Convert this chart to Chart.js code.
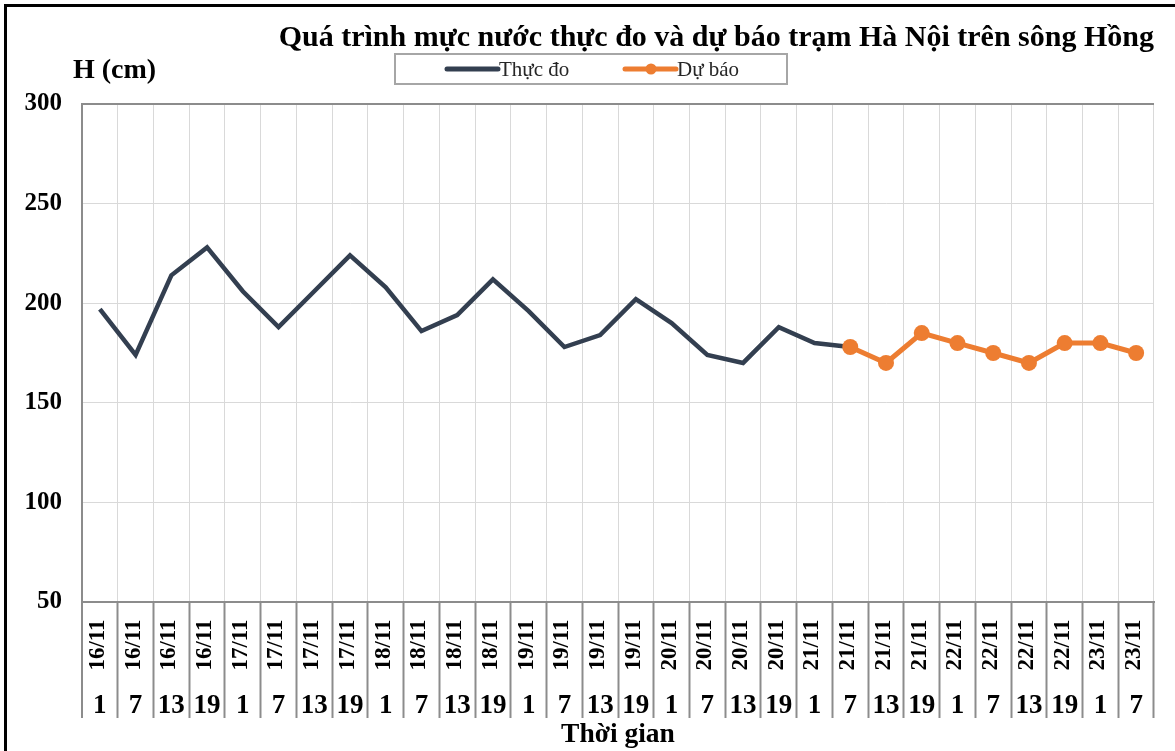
<!DOCTYPE html>
<html>
<head>
<meta charset="utf-8">
<script src="https://cdn.jsdelivr.net/npm/chart.js@4.4.0/dist/chart.umd.min.js"></script>
<style>
  body { margin: 0; background: #fff; }
  canvas { display: block; }
</style>
</head>
<body>
<canvas id="waterChart" width="1175" height="751"></canvas>
<script>
// Water level at Ha Noi station (cm), observed vs forecast
const dates = [
    '16/11', '16/11', '16/11', '16/11', '17/11', '17/11', '17/11', '17/11',
    '18/11', '18/11', '18/11', '18/11', '19/11', '19/11', '19/11', '19/11',
    '20/11', '20/11', '20/11', '20/11', '21/11', '21/11', '21/11', '21/11',
    '22/11', '22/11', '22/11', '22/11', '23/11', '23/11'
];
const hours = [1, 7, 13, 19, 1, 7, 13, 19, 1, 7, 13, 19, 1, 7, 13, 19,
               1, 7, 13, 19, 1, 7, 13, 19, 1, 7, 13, 19, 1, 7];

const observed = [197, 174, 214, 228, 206, 188, 206, 224, 208, 186, 194, 212,
                  196, 178, 184, 202, 190, 174, 170, 188, 180, 178,
                  null, null, null, null, null, null, null, null];
const forecast = [null, null, null, null, null, null, null, null, null, null,
                  null, null, null, null, null, null, null, null, null, null,
                  null, 178, 170, 185, 180, 175, 170, 180, 180, 175];

const yTicks = [50, 100, 150, 200, 250, 300];

const SERIF = '"Liberation Serif", "Times New Roman", serif';
const AXIS_GREY = '#8c8c8c';
const GRID_GREY = '#d9d9d9';

// frame, legend box, y title and the two-row x labels
const decorations = {
    id: 'decorations',
    afterDraw(chart) {
        const { ctx, scales: { x } } = chart;
        ctx.save();

        // outer frame (left + top visible)
        ctx.fillStyle = '#000';
        ctx.fillRect(4, 4, 3, 751);
        ctx.fillRect(4, 4, 1175, 3);

        // y axis title
        ctx.fillStyle = '#000';
        ctx.textBaseline = 'alphabetic';
        ctx.textAlign = 'left';
        ctx.font = 'bold 28px ' + SERIF;
        ctx.fillText('H (cm)', 73, 78);

        // x labels: rotated date + hour row
        ctx.textAlign = 'center';
        ctx.textBaseline = 'middle';
        dates.forEach((d, i) => {
            const px = x.getPixelForValue(i);
            ctx.font = 'bold 23px ' + SERIF;
            ctx.save();
            ctx.translate(px - 2, 645);
            ctx.rotate(-Math.PI / 2);
            ctx.fillText(d, 0, 0);
            ctx.restore();
            ctx.font = 'bold 27px ' + SERIF;
            ctx.fillText(String(hours[i]), px, 706);
        });

        // legend box
        ctx.strokeStyle = '#a6a6a6';
        ctx.lineWidth = 2;
        ctx.strokeRect(395, 54, 392, 30);
        const slots = [447, 625];
        ctx.font = '21px ' + SERIF;
        ctx.textAlign = 'left';
        chart.data.datasets.forEach((ds, i) => {
            const lx = slots[i];
            const ly = 69;
            ctx.strokeStyle = ds.borderColor;
            ctx.lineWidth = 5;
            ctx.lineCap = 'round';
            ctx.beginPath();
            ctx.moveTo(lx, ly);
            ctx.lineTo(lx + 51, ly);
            ctx.stroke();
            if (ds.pointRadius > 0) {
                ctx.fillStyle = ds.pointBackgroundColor;
                ctx.beginPath();
                ctx.arc(lx + 26, ly, 5.5, 0, Math.PI * 2);
                ctx.fill();
            }
            ctx.fillStyle = '#262626';
            ctx.fillText(ds.label, lx + 52, ly + 1);
        });

        ctx.restore();
    }
};

new Chart(document.getElementById('waterChart'), {
    type: 'line',
    data: {
        labels: dates.map((d, i) => d + ' ' + hours[i]),
        datasets: [
            {
                label: 'Thực đo',
                data: observed,
                borderColor: '#333f50',
                backgroundColor: '#333f50',
                borderWidth: 4.5,
                pointRadius: 0,
                tension: 0,
                order: 2
            },
            {
                label: 'Dự báo',
                data: forecast,
                borderColor: '#ed7d31',
                backgroundColor: '#ed7d31',
                pointBackgroundColor: '#ed7d31',
                pointBorderColor: '#ed7d31',
                borderWidth: 5,
                pointRadius: 8,
                pointBorderWidth: 0,
                tension: 0,
                order: 1
            }
        ]
    },
    options: {
        responsive: false,
        animation: false,
        layout: { padding: { left: 0, right: 21, top: 0, bottom: 0 } },
        plugins: {
            legend: { display: false },
            tooltip: { enabled: false },
            title: {
                display: true,
                text: 'Quá trình mực nước thực đo và dự báo trạm Hà Nội trên sông Hồng',
                align: 'end',
                color: '#000',
                font: { family: SERIF, size: 30, weight: 'bold', lineHeight: 1.2 },
                padding: { top: 20, bottom: 48 }
            }
        },
        scales: {
            x: {
                offset: true,
                afterFit: (scale) => { scale.height = 149; },
                grid: {
                    offset: true,
                    drawTicks: true,
                    tickLength: 116,
                    tickColor: AXIS_GREY,
                    tickWidth: 2,
                    color: (c) => (c.index === 0 || c.index === dates.length) ? AXIS_GREY : GRID_GREY,
                    lineWidth: (c) => (c.index === 0 || c.index === dates.length) ? 2 : 1
                },
                border: { display: true, color: AXIS_GREY, width: 2 },
                ticks: { display: false },
                title: {
                    display: true,
                    text: 'Thời gian',
                    color: '#000',
                    font: { family: SERIF, size: 27.5, weight: 'bold', lineHeight: 1.2 },
                    padding: { top: 0, bottom: 0 }
                }
            },
            y: {
                min: 50,
                max: 300,
                afterFit: (scale) => { scale.width = 82; },
                afterBuildTicks: (scale) => { scale.ticks = yTicks.map(v => ({ value: v })); },
                grid: {
                    drawTicks: false,
                    color: (c) => c.tick && c.tick.value === 300 ? AXIS_GREY : GRID_GREY,
                    lineWidth: (c) => c.tick && c.tick.value === 300 ? 2 : 1
                },
                border: { display: true, color: AXIS_GREY, width: 2 },
                ticks: {
                    padding: 20,
                    color: '#000',
                    font: { family: SERIF, size: 25, weight: 'bold' }
                }
            }
        }
    },
    plugins: [decorations]
});
</script>
</body>
</html>
